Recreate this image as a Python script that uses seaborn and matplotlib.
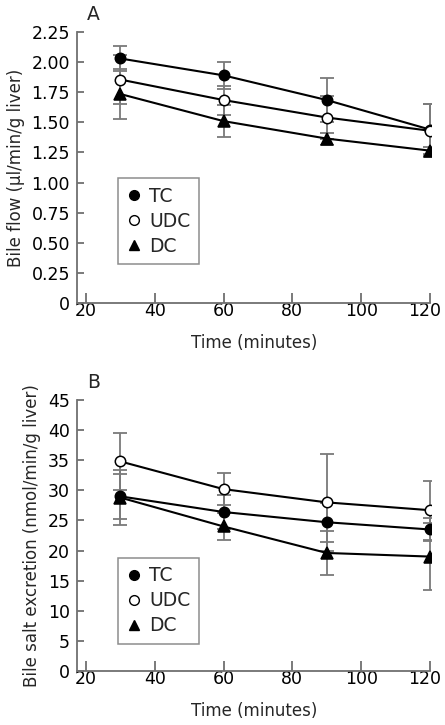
import matplotlib
matplotlib.use("Agg")
import matplotlib.pyplot as plt
import matplotlib.transforms as mtransforms
from matplotlib.lines import Line2D
import seaborn as sns
import pandas as pd

sns.set_style("ticks")
plt.rcParams['font.family'] = ['DejaVu Sans']

time = [30, 60, 90, 120]
groups = ["TC", "UDC", "DC"]

# Panel A: bile flow (µl/min/g liver)
flow_tc = [2.03, 1.89, 1.685, 1.44]
flow_udc = [1.855, 1.685, 1.54, 1.43]
flow_dc = [1.735, 1.51, 1.365, 1.265]
flow_tc_err = [0.10, 0.115, 0.18, 0.21]
flow_udc_err = [0.20, 0.12, 0.18, 0.22]
flow_dc_err = [0.21, 0.13, 0.05, 0.03]

# Panel B: bile salt excretion (nmol/min/g liver)
salt_tc = [29.0, 26.4, 24.7, 23.5]
salt_udc = [34.8, 30.2, 28.0, 26.7]
salt_dc = [28.8, 24.0, 19.6, 19.0]
salt_tc_err = [3.7, 2.85, 3.2, 1.9]
salt_udc_err = [4.8, 2.6, 8.0, 4.9]
salt_dc_err = [4.5, 2.25, 3.7, 5.5]

yticks_a = [0, 0.25, 0.5, 0.75, 1.0, 1.25, 1.5, 1.75, 2.0, 2.25]
yticklabels_a = ["0", "0.25", "0.50", "0.75", "1.00", "1.25", "1.50", "1.75", "2.00", "2.25"]
yticks_b = [0, 5, 10, 15, 20, 25, 30, 35, 40, 45]
xticks = [20, 40, 60, 80, 100, 120]

styles = {
    "TC": dict(marker="o", markerfacecolor="black", markeredgecolor="black", markersize=7.5),
    "UDC": dict(marker="o", markerfacecolor="white", markeredgecolor="black", markersize=7.5),
    "DC": dict(marker="^", markerfacecolor="black", markeredgecolor="black", markersize=8),
}

W, H = 445, 725
FS_TICK = 12.5
FS_LAB = 12
FS_LEG = 13.5
fig = plt.figure(figsize=(W / 100, H / 100), dpi=100)
axA = fig.add_axes([77 / W, 1 - 303 / H, 354 / W, 271 / H])
axB = fig.add_axes([77 / W, 1 - 671 / H, 354 / W, 271 / H])

spine_col = "#707070"
err_col = "#7a7a7a"


def draw(ax, vals, errs, ylim, yticks, yticklabels, ylabel, letter, leg_anchor):
    for g, v, e in zip(groups, vals, errs):
        ax.errorbar(time, v, yerr=e, fmt="none", ecolor=err_col, elinewidth=1.3,
                    capsize=5, capthick=1.3, zorder=1)
    for g, v in zip(groups, vals):
        df = pd.DataFrame({"time": time, "value": v})
        sns.lineplot(data=df, x="time", y="value", ax=ax, color="black",
                     linewidth=1.5, zorder=3, markeredgewidth=1.1, **styles[g])
    ax.set_xlim(17.4, 120.3)
    ax.set_ylim(*ylim)
    ax.set_xticks(xticks)
    ax.set_yticks(yticks)
    ax.set_yticklabels(yticklabels)
    ax.tick_params(axis="x", direction="in", length=7, width=1.3, colors=spine_col,
                   labelcolor="black", labelsize=FS_TICK, pad=-1)
    ax.tick_params(axis="y", direction="in", length=5, width=1.3, colors=spine_col,
                   labelcolor="black", labelsize=FS_TICK, pad=5)
    for s in ["top", "right"]:
        ax.spines[s].set_visible(False)
    for s in ["left", "bottom"]:
        ax.spines[s].set_color(spine_col)
        ax.spines[s].set_linewidth(1.3)
    ax.spines["left"].set_bounds(ylim[0], ylim[1])
    ax.spines["bottom"].set_bounds(17.4, 120)
    last = ax.get_xticklabels()[-1]
    last.set_transform(last.get_transform() +
                       mtransforms.ScaledTranslation(-5 / 100, 0, fig.dpi_scale_trans))
    ax.set_xlabel("Time (minutes)", fontsize=FS_LAB, labelpad=10)
    ax.set_ylabel(ylabel, fontsize=FS_LAB, labelpad=5)
    ax.text(0.028, 1.063, letter, transform=ax.transAxes, fontsize=FS_LEG, ha="left", va="center")
    handles = [Line2D([], [], linestyle="none", **{**styles[g], "markersize": 7}) for g in groups]
    leg = ax.legend(handles, groups, loc="lower left", bbox_to_anchor=leg_anchor,
                    borderaxespad=0, fontsize=FS_LEG, frameon=True, fancybox=False,
                    handlelength=0.8, handletextpad=0.4, labelspacing=0.32,
                    borderpad=0.45)
    leg.get_frame().set_edgecolor(spine_col)
    leg.get_frame().set_linewidth(1.1)


draw(axA, [flow_tc, flow_udc, flow_dc], [flow_tc_err, flow_udc_err, flow_dc_err],
     (0, 2.25), yticks_a, yticklabels_a, "Bile flow (µl/min/g liver)", "A", (0.116, 0.144))
draw(axB, [salt_tc, salt_udc, salt_dc], [salt_tc_err, salt_udc_err, salt_dc_err],
     (0, 45), yticks_b, [str(t) for t in yticks_b],
     "Bile salt excretion (nmol/min/g liver)", "B", (0.116, 0.10))

fig.savefig("out.png", dpi=100)
